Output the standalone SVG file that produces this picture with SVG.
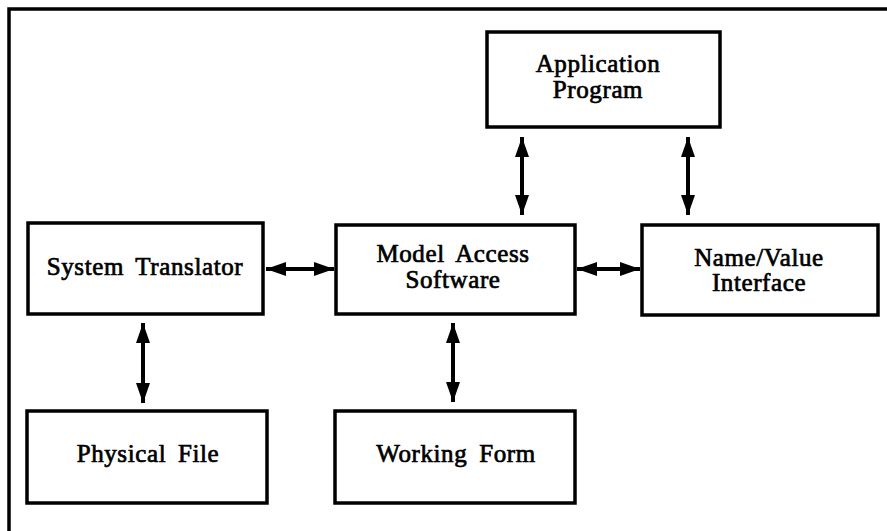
<svg xmlns="http://www.w3.org/2000/svg" width="887" height="531" viewBox="0 0 887 531">
<style>
.box{fill:#fff;stroke:#000;stroke-width:3.5}
.lbl{font-family:"Liberation Serif","Times New Roman",serif;font-size:25px;text-anchor:middle;fill:#000;stroke:#000;stroke-width:0.7;letter-spacing:0.6px;word-spacing:5px}
.con{stroke:#000;stroke-width:4;fill:none;marker-start:url(#ah);marker-end:url(#ah)}
.frame{stroke:#000;stroke-width:3.5;fill:none}
</style>
<defs>
<marker id="ah" markerUnits="userSpaceOnUse" markerWidth="22" markerHeight="16" refX="20" refY="7" orient="auto-start-reverse" viewBox="0 0 22 14">
<path d="M0,0 L20,7 L0,14 Z" fill="#000"/>
</marker>
</defs>
<rect width="887" height="531" fill="#fff"/>
<path class="frame" d="M9,531 L9,9 L887,9"/>
<g id="app">
<rect class="box" x="487" y="32" width="233" height="95"/>
<text class="lbl" x="598" y="72">Application</text>
<text class="lbl" x="598" y="98">Program</text>
</g>
<g id="sys">
<rect class="box" x="28" y="223" width="235" height="91"/>
<text class="lbl" x="145" y="275">System Translator</text>
</g>
<g id="mas">
<rect class="box" x="336" y="225" width="239" height="89"/>
<text class="lbl" x="453" y="262">Model Access</text>
<text class="lbl" x="453" y="288">Software</text>
</g>
<g id="nvi">
<rect class="box" x="642" y="225" width="236" height="90"/>
<text class="lbl" x="759" y="266">Name/Value</text>
<text class="lbl" x="759" y="291">Interface</text>
</g>
<g id="phys">
<rect class="box" x="27" y="411" width="240" height="92"/>
<text class="lbl" x="148" y="462">Physical File</text>
</g>
<g id="work">
<rect class="box" x="335" y="411" width="240" height="92"/>
<text class="lbl" x="456" y="462">Working Form</text>
</g>
<g id="connectors">
<line class="con" x1="266" y1="269" x2="334" y2="269"/>
<line class="con" x1="577" y1="269" x2="640" y2="269"/>
<line class="con" x1="522" y1="137" x2="522" y2="215"/>
<line class="con" x1="688" y1="137" x2="688" y2="215"/>
<line class="con" x1="143" y1="323" x2="143" y2="403"/>
<line class="con" x1="453" y1="323" x2="453" y2="402"/>
</g>
</svg>
